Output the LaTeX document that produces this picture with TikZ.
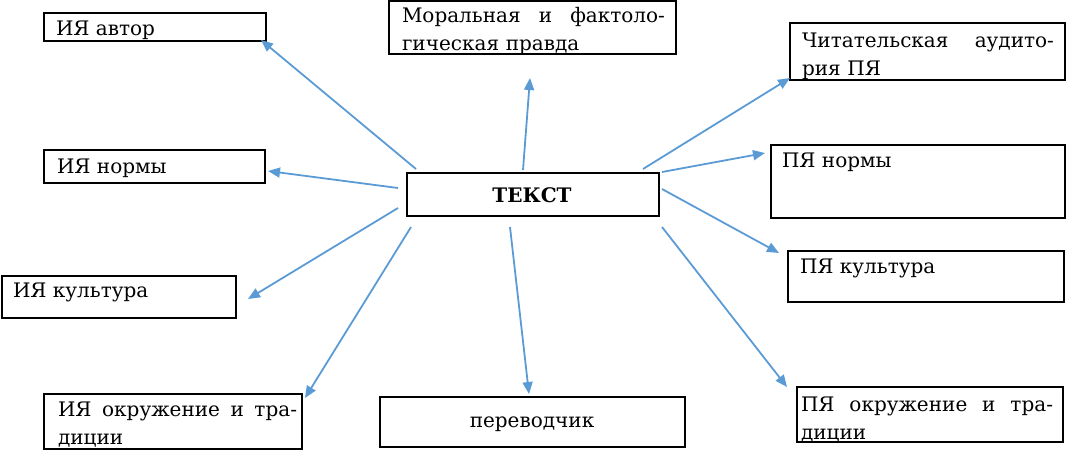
\documentclass[tikz,border=0pt]{standalone}
\usepackage{fontspec}
\setmainfont{DejaVu Serif}
\usetikzlibrary{arrows.meta}
\definecolor{arrowblue}{HTML}{5B9BD5}
\tikzset{
  box/.style={draw=black, line width=1.4pt, inner sep=0pt, outer sep=0pt, anchor=north west},
  txt/.style={inner sep=0pt, outer sep=0pt, anchor=base west, font=\fontsize{20}{28}\selectfont},
  txtpar/.style={txt, align=left},
  arr/.style={draw=arrowblue, line width=1.8pt, -{Triangle[length=12pt,width=10pt]}}
}
\begin{document}
\begin{tikzpicture}[x=1pt,y=-1pt]
\useasboundingbox (0,0) rectangle (1066,450);
% boxes
\node[box, minimum width=222pt, minimum height=28pt] (ia) at (44,13) {};
\node[box, minimum width=287pt, minimum height=53pt] (mp) at (389,1) {};
\node[box, minimum width=275pt, minimum height=57pt] (ra) at (790,23) {};
\node[box, minimum width=221pt, minimum height=33pt] (in) at (44,150) {};
\node[box, minimum width=252pt, minimum height=43pt] (tx) at (407,173) {};
\node[box, minimum width=294pt, minimum height=73pt] (pn) at (771,145) {};
\node[box, minimum width=234pt, minimum height=42pt] (ic) at (2,276) {};
\node[box, minimum width=276pt, minimum height=51pt] (pc) at (788,251) {};
\node[box, minimum width=258pt, minimum height=55pt] (ie) at (44,394) {};
\node[box, minimum width=305pt, minimum height=50pt] (tr) at (380,397) {};
\node[box, minimum width=266pt, minimum height=55pt] (pe) at (797,387) {};
% texts
\node[txt] (ia-t) at (56,35) {ИЯ автор};
\node[txtpar, text width=263pt] (mp-t) at (402,22) {\hbox to 263pt{Моральная\hfill и\hfill фактоло-}\\гическая правда};
\node[txtpar, text width=252pt] (ra-t) at (802,47) {\hbox to 252pt{Читательская\hfill аудито-}\\рия ПЯ};
\node[txt] (in-t) at (57,173) {ИЯ нормы};
\node[inner sep=0pt, anchor=base, font=\fontsize{20}{28}\selectfont\bfseries] (tx-t) at (532,202) {ТЕКСТ};
\node[txt] (pn-t) at (782,167) {ПЯ нормы};
\node[txt] (ic-t) at (13,297) {ИЯ культура};
\node[txt] (pc-t) at (800,273) {ПЯ культура};
\node[txtpar, text width=239pt] (ie-t) at (58,416) {\hbox to 239pt{ИЯ\hfill окружение\hfill и\hfill тра-}\\диции};
\node[inner sep=0pt, anchor=base, font=\fontsize{20}{28}\selectfont] (tr-t) at (532,427) {переводчик};
\node[txtpar, text width=252pt] (pe-t) at (801,411) {\hbox to 252pt{ПЯ\hfill окружение\hfill и\hfill тра-}\\диции};
% arrow end points
\coordinate (s1) at (416,169); \coordinate (e1) at (261,40);
\coordinate (s2) at (523,170); \coordinate (e2) at (530,78);
\coordinate (s3) at (643,169); \coordinate (e3) at (790,78);
\coordinate (s4) at (398,188); \coordinate (e4) at (268,171);
\coordinate (s5) at (662,172); \coordinate (e5) at (765,153);
\coordinate (s6) at (398,208); \coordinate (e6) at (248,299);
\coordinate (s7) at (662,189); \coordinate (e7) at (779,253);
\coordinate (s8) at (411,227); \coordinate (e8) at (305,398);
\coordinate (s9) at (510,227); \coordinate (e9) at (529,394);
\coordinate (s10) at (662,227); \coordinate (e10) at (787,387);
\foreach \i in {1,...,10} {\draw[arr] (s\i) -- (e\i);}
\end{tikzpicture}
\end{document}
